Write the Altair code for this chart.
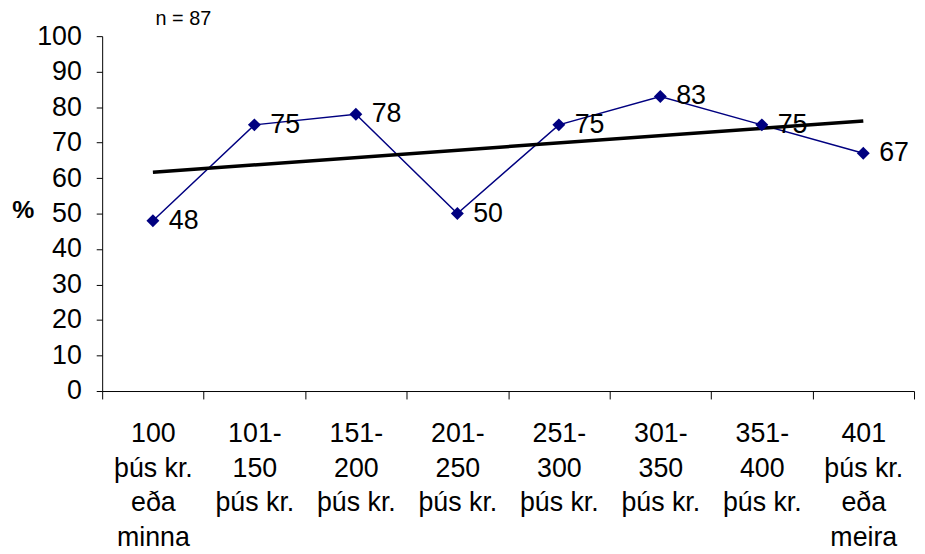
import altair as alt
import pandas as pd

categories = [
    "100|þús kr.|eða|minna",
    "101-|150|þús kr.",
    "151-|200|þús kr.",
    "201-|250|þús kr.",
    "251-|300|þús kr.",
    "301-|350|þús kr.",
    "351-|400|þús kr.",
    "401|þús kr.|eða|meira",
]
values = [48, 75, 78, 50, 75, 83, 75, 67]
idx = list(range(1, len(categories) + 1))

df = pd.DataFrame({"idx": idx, "cat": categories, "value": values})

cats_js = str(categories).replace("'", '"')
label_expr = (
    "isValid(datum.value) && datum.value >= 1 && datum.value <= %d ? split(%s[datum.value - 1], '|') : ''"
    % (len(categories), cats_js)
)

FONT = "Liberation Sans"

x = alt.X(
    "idx:O",
    scale=alt.Scale(paddingInner=0, paddingOuter=0),
    axis=alt.Axis(
        title=None,
        labelExpr=label_expr,
        labelAngle=0,
        labelFont=FONT,
        labelFontSize=27,
        labelColor="black",
        labelLineHeight=35,
        labelPadding=22,
        labelBaseline="top",
        tickBand="extent",
        tickSize=8,
        tickColor="black",
        domainColor="black",
        grid=False,
    ),
)
y = alt.Y(
    "value:Q",
    scale=alt.Scale(domain=[0, 100], nice=False, zero=True),
    axis=alt.Axis(
        values=list(range(0, 101, 10)),
        title="%",
        titleAngle=0,
        titleX=-80,
        titleY=188,
        titleFont=FONT,
        titleFontSize=25,
        titleFontWeight="bold",
        titleColor="black",
        labelFont=FONT,
        labelFontSize=27,
        labelColor="black",
        labelPadding=15,
        tickSize=6,
        tickColor="black",
        domainColor="black",
        grid=False,
    ),
)

base = alt.Chart(df)

line = base.mark_line(color="#000080", strokeWidth=1.5).encode(x=x, y=y)
pts = base.mark_point(shape="diamond", filled=True, color="#000080", size=170, opacity=1).encode(x=x, y=y)
txt = base.mark_text(align="left", baseline="middle", dx=16, dy=0, font=FONT,
                     fontSize=27, color="black").encode(x=x, y=y, text="value:Q")
trend = base.transform_regression("idx", "value", method="linear").mark_line(
    color="black", strokeWidth=3.5
).encode(x=x, y=y)

chart = (
    alt.layer(line, trend, pts, txt)
    .properties(
        width=819,
        height=358,
        autosize=alt.AutoSizeParams(type="none"),
        padding={"left": 95, "top": 26, "right": 3, "bottom": 160},
        title=alt.TitleParams("n = 87", font=FONT, fontSize=20, fontWeight="normal",
                              color="black", anchor="start", dx=145, offset=-7),
    )
    .configure_view(stroke=None)
)

chart.save("out.html", embed_options={"renderer": "svg", "actions": False})
